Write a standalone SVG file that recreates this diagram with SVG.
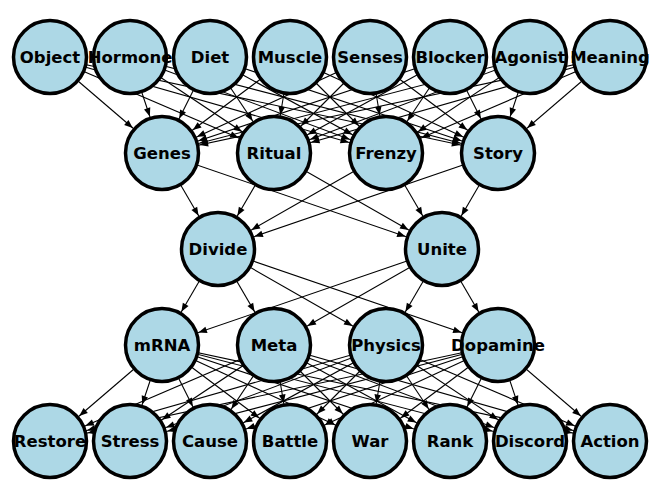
<svg xmlns="http://www.w3.org/2000/svg" width="660" height="499" viewBox="0 0 660 499">
<style>
.e line{stroke:#000;stroke-width:1.1;marker-end:url(#a)}
.n circle{fill:#add8e6;stroke:#000;stroke-width:3.5}
.n text{font-family:"DejaVu Sans",sans-serif;font-weight:bold;font-size:16.5px;text-anchor:middle;dominant-baseline:central;fill:#000}
</style>
<defs>
<marker id="a" viewBox="0 0 50 10" refX="50" refY="5" markerWidth="50" markerHeight="10" markerUnits="userSpaceOnUse" orient="auto" overflow="visible"><path d="M11.5 5 L3 1.7 L3 8.3 z" fill="#000"/></marker>
</defs>
<rect width="660" height="499" fill="#fff"/>
<g id="edges" class="e">
<line x1="50" y1="57" x2="162" y2="153"/><line x1="50" y1="57" x2="274" y2="153"/><line x1="50" y1="57" x2="386" y2="153"/><line x1="50" y1="57" x2="498" y2="153"/>
<line x1="130" y1="57" x2="162" y2="153"/><line x1="130" y1="57" x2="274" y2="153"/><line x1="130" y1="57" x2="386" y2="153"/><line x1="130" y1="57" x2="498" y2="153"/>
<line x1="210" y1="57" x2="162" y2="153"/><line x1="210" y1="57" x2="274" y2="153"/><line x1="210" y1="57" x2="386" y2="153"/><line x1="210" y1="57" x2="498" y2="153"/>
<line x1="290" y1="57" x2="162" y2="153"/><line x1="290" y1="57" x2="274" y2="153"/><line x1="290" y1="57" x2="386" y2="153"/><line x1="290" y1="57" x2="498" y2="153"/>
<line x1="370" y1="57" x2="162" y2="153"/><line x1="370" y1="57" x2="274" y2="153"/><line x1="370" y1="57" x2="386" y2="153"/><line x1="370" y1="57" x2="498" y2="153"/>
<line x1="450" y1="57" x2="162" y2="153"/><line x1="450" y1="57" x2="274" y2="153"/><line x1="450" y1="57" x2="386" y2="153"/><line x1="450" y1="57" x2="498" y2="153"/>
<line x1="530" y1="57" x2="162" y2="153"/><line x1="530" y1="57" x2="274" y2="153"/><line x1="530" y1="57" x2="386" y2="153"/><line x1="530" y1="57" x2="498" y2="153"/>
<line x1="610" y1="57" x2="162" y2="153"/><line x1="610" y1="57" x2="274" y2="153"/><line x1="610" y1="57" x2="386" y2="153"/><line x1="610" y1="57" x2="498" y2="153"/>
<line x1="162" y1="153" x2="218" y2="249"/><line x1="162" y1="153" x2="442" y2="249"/>
<line x1="274" y1="153" x2="218" y2="249"/><line x1="274" y1="153" x2="442" y2="249"/>
<line x1="386" y1="153" x2="218" y2="249"/><line x1="386" y1="153" x2="442" y2="249"/>
<line x1="498" y1="153" x2="218" y2="249"/><line x1="498" y1="153" x2="442" y2="249"/>
<line x1="218" y1="249" x2="162" y2="345"/><line x1="218" y1="249" x2="274" y2="345"/><line x1="218" y1="249" x2="386" y2="345"/><line x1="218" y1="249" x2="498" y2="345"/>
<line x1="442" y1="249" x2="162" y2="345"/><line x1="442" y1="249" x2="274" y2="345"/><line x1="442" y1="249" x2="386" y2="345"/><line x1="442" y1="249" x2="498" y2="345"/>
<line x1="162" y1="345" x2="50" y2="441"/><line x1="162" y1="345" x2="130" y2="441"/><line x1="162" y1="345" x2="210" y2="441"/><line x1="162" y1="345" x2="290" y2="441"/><line x1="162" y1="345" x2="370" y2="441"/><line x1="162" y1="345" x2="450" y2="441"/><line x1="162" y1="345" x2="530" y2="441"/><line x1="162" y1="345" x2="610" y2="441"/>
<line x1="274" y1="345" x2="50" y2="441"/><line x1="274" y1="345" x2="130" y2="441"/><line x1="274" y1="345" x2="210" y2="441"/><line x1="274" y1="345" x2="290" y2="441"/><line x1="274" y1="345" x2="370" y2="441"/><line x1="274" y1="345" x2="450" y2="441"/><line x1="274" y1="345" x2="530" y2="441"/><line x1="274" y1="345" x2="610" y2="441"/>
<line x1="386" y1="345" x2="50" y2="441"/><line x1="386" y1="345" x2="130" y2="441"/><line x1="386" y1="345" x2="210" y2="441"/><line x1="386" y1="345" x2="290" y2="441"/><line x1="386" y1="345" x2="370" y2="441"/><line x1="386" y1="345" x2="450" y2="441"/><line x1="386" y1="345" x2="530" y2="441"/><line x1="386" y1="345" x2="610" y2="441"/>
<line x1="498" y1="345" x2="50" y2="441"/><line x1="498" y1="345" x2="130" y2="441"/><line x1="498" y1="345" x2="210" y2="441"/><line x1="498" y1="345" x2="290" y2="441"/><line x1="498" y1="345" x2="370" y2="441"/><line x1="498" y1="345" x2="450" y2="441"/><line x1="498" y1="345" x2="530" y2="441"/><line x1="498" y1="345" x2="610" y2="441"/>
</g>
<g id="n-object" class="n"><circle cx="50" cy="57" r="36.5"/><text x="50" y="57">Object</text></g>
<g id="n-hormone" class="n"><circle cx="130" cy="57" r="36.5"/><text x="130" y="57">Hormone</text></g>
<g id="n-diet" class="n"><circle cx="210" cy="57" r="36.5"/><text x="210" y="57">Diet</text></g>
<g id="n-muscle" class="n"><circle cx="290" cy="57" r="36.5"/><text x="290" y="57">Muscle</text></g>
<g id="n-senses" class="n"><circle cx="370" cy="57" r="36.5"/><text x="370" y="57">Senses</text></g>
<g id="n-blocker" class="n"><circle cx="450" cy="57" r="36.5"/><text x="450" y="57">Blocker</text></g>
<g id="n-agonist" class="n"><circle cx="530" cy="57" r="36.5"/><text x="530" y="57">Agonist</text></g>
<g id="n-meaning" class="n"><circle cx="610" cy="57" r="36.5"/><text x="610" y="57">Meaning</text></g>
<g id="n-genes" class="n"><circle cx="162" cy="153" r="36.5"/><text x="162" y="153">Genes</text></g>
<g id="n-ritual" class="n"><circle cx="274" cy="153" r="36.5"/><text x="274" y="153">Ritual</text></g>
<g id="n-frenzy" class="n"><circle cx="386" cy="153" r="36.5"/><text x="386" y="153">Frenzy</text></g>
<g id="n-story" class="n"><circle cx="498" cy="153" r="36.5"/><text x="498" y="153">Story</text></g>
<g id="n-divide" class="n"><circle cx="218" cy="249" r="36.5"/><text x="218" y="249">Divide</text></g>
<g id="n-unite" class="n"><circle cx="442" cy="249" r="36.5"/><text x="442" y="249">Unite</text></g>
<g id="n-mrna" class="n"><circle cx="162" cy="345" r="36.5"/><text x="162" y="345">mRNA</text></g>
<g id="n-meta" class="n"><circle cx="274" cy="345" r="36.5"/><text x="274" y="345">Meta</text></g>
<g id="n-physics" class="n"><circle cx="386" cy="345" r="36.5"/><text x="386" y="345">Physics</text></g>
<g id="n-dopamine" class="n"><circle cx="498" cy="345" r="36.5"/><text x="498" y="345">Dopamine</text></g>
<g id="n-restore" class="n"><circle cx="50" cy="441" r="36.5"/><text x="50" y="441">Restore</text></g>
<g id="n-stress" class="n"><circle cx="130" cy="441" r="36.5"/><text x="130" y="441">Stress</text></g>
<g id="n-cause" class="n"><circle cx="210" cy="441" r="36.5"/><text x="210" y="441">Cause</text></g>
<g id="n-battle" class="n"><circle cx="290" cy="441" r="36.5"/><text x="290" y="441">Battle</text></g>
<g id="n-war" class="n"><circle cx="370" cy="441" r="36.5"/><text x="370" y="441">War</text></g>
<g id="n-rank" class="n"><circle cx="450" cy="441" r="36.5"/><text x="450" y="441">Rank</text></g>
<g id="n-discord" class="n"><circle cx="530" cy="441" r="36.5"/><text x="530" y="441">Discord</text></g>
<g id="n-action" class="n"><circle cx="610" cy="441" r="36.5"/><text x="610" y="441">Action</text></g>
</svg>
